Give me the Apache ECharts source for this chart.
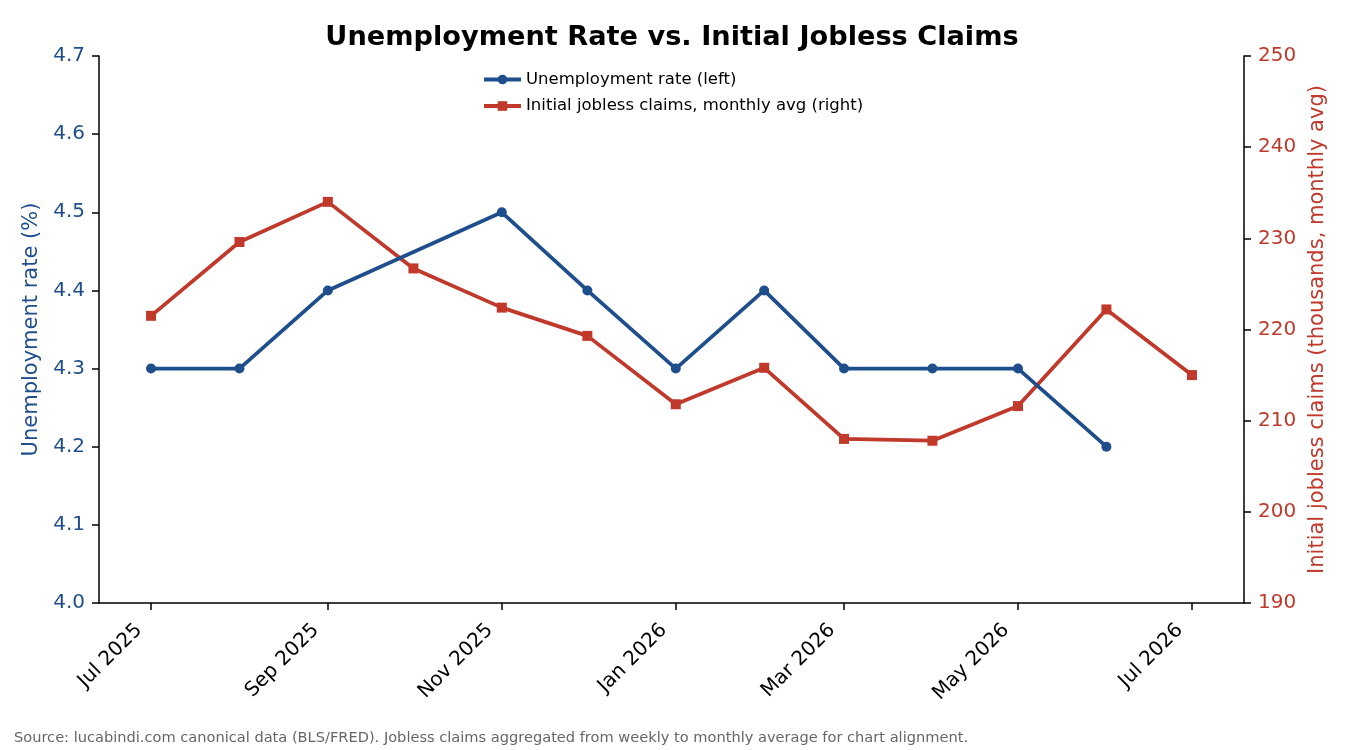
<!DOCTYPE html>
<html>
<head>
<meta charset="utf-8">
<script src="https://cdn.jsdelivr.net/npm/echarts@6/dist/echarts.min.js"></script>
<style>
  html, body { margin: 0; padding: 0; background: #fff; }
  #main { width: 1350px; height: 750px; }
</style>
</head>
<body>
<div id="main"></div>
<script>
// monthly observations (first of month)
const months = ['2025-07', '2025-08', '2025-09', '2025-10', '2025-11', '2025-12',
  '2026-01', '2026-02', '2026-03', '2026-04', '2026-05', '2026-06', '2026-07']
// unemployment rate, %; Oct 2025 has no release
const unemployment = [4.3, 4.3, 4.4, null, 4.5, 4.4, 4.3, 4.4, 4.3, 4.3, 4.3, 4.2, null]
// initial jobless claims, thousands, monthly avg
const claims = [221.5, 229.6, 234.0, 226.7, 222.4, 219.3, 211.8, 215.8, 208.0, 207.8, 211.6, 222.2, 215.0]
const tickMonths = ['2025-07', '2025-09', '2025-11', '2026-01', '2026-03', '2026-05', '2026-07']
const tickLabels = ['Jul 2025', 'Sep 2025', 'Nov 2025', 'Jan 2026', 'Mar 2026', 'May 2026', 'Jul 2026']

const BLUE = '#1f4e8c'
const RED = '#c0392b'
const FONT = 'DejaVu Sans'

// x is days since epoch, so the axis keeps real date spacing
const toDay = m => {
  const [y, mo] = m.split('-').map(Number)
  return Date.UTC(y, mo - 1, 1) / 86400000
}
const xs = months.map(toDay)
const ticks = tickMonths.map(toDay)
const span = xs[xs.length - 1] - xs[0]
const pad = span * 0.05

const chart = echarts.init(document.getElementById('main'))
chart.setOption({
  animation: false,
  textStyle: { fontFamily: FONT },
  title: {
    text: 'Unemployment Rate vs. Initial Jobless Claims',
    left: 667,
    textAlign: 'center',
    top: 19,
    textStyle: { fontFamily: FONT, fontSize: 27.2, fontWeight: 'bold', color: '#000' }
  },
  legend: {
    orient: 'vertical',
    left: 477,
    top: 66,
    itemWidth: 37,
    itemHeight: 12,
    itemGap: 9.5,
    lineStyle: { width: 4 },
    textStyle: { fontFamily: FONT, fontSize: 16.5, color: '#000' },
    data: ['Unemployment rate (left)', 'Initial jobless claims, monthly avg (right)']
  },
  grid: { left: 99, right: 106, top: 56, bottom: 147, containLabel: false },
  xAxis: {
    type: 'value',
    min: xs[0] - pad,
    max: xs[xs.length - 1] + pad,
    axisLine: { lineStyle: { color: '#000', width: 1.5 } },
    axisTick: { show: true, length: 7, lineStyle: { color: '#000', width: 1.5 }, customValues: ticks },
    splitLine: { show: false },
    axisLabel: {
      customValues: ticks,
      rotate: 45,
      margin: 12,
      padding: [0, 17, 0, 0],
      fontFamily: FONT,
      fontSize: 20,
      color: '#000',
      formatter: v => {
        const i = ticks.findIndex(t => Math.abs(t - v) < 0.5)
        return i >= 0 ? tickLabels[i] : ''
      }
    }
  },
  yAxis: [
    {
      type: 'value',
      min: 4.0,
      max: 4.7,
      interval: 0.1,
      name: 'Unemployment rate (%)',
      nameLocation: 'middle',
      nameRotate: 90,
      nameGap: 56,
      nameTextStyle: { fontFamily: FONT, fontSize: 21, color: BLUE },
      axisLine: { show: true, lineStyle: { color: '#000', width: 1.5 } },
      axisTick: { show: true, length: 7, lineStyle: { color: '#000', width: 1.5 } },
      splitLine: { show: false },
      axisLabel: {
        fontFamily: FONT, fontSize: 20, color: BLUE, margin: 14,
        formatter: v => v.toFixed(1)
      }
    },
    {
      type: 'value',
      min: 190,
      max: 250,
      interval: 10,
      position: 'right',
      name: 'Initial jobless claims (thousands, monthly avg)',
      nameLocation: 'middle',
      nameRotate: 90,
      nameGap: 62,
      nameTextStyle: { fontFamily: FONT, fontSize: 21, color: RED },
      axisLine: { show: true, lineStyle: { color: '#000', width: 1.5 } },
      axisTick: { show: true, length: 7, lineStyle: { color: '#000', width: 1.5 } },
      splitLine: { show: false },
      axisLabel: { fontFamily: FONT, fontSize: 20, color: RED, margin: 14 }
    }
  ],
  series: [
    {
      name: 'Unemployment rate (left)',
      type: 'line',
      yAxisIndex: 0,
      data: xs.map((x, i) => [x, unemployment[i]]),
      connectNulls: true,
      symbol: 'circle',
      symbolSize: 10,
      lineStyle: { color: BLUE, width: 3.75 },
      itemStyle: { color: BLUE },
      z: 3
    },
    {
      name: 'Initial jobless claims, monthly avg (right)',
      type: 'line',
      yAxisIndex: 1,
      data: xs.map((x, i) => [x, claims[i]]),
      symbol: 'rect',
      symbolSize: 10,
      lineStyle: { color: RED, width: 3.75 },
      itemStyle: { color: RED },
      z: 2
    }
  ],
  graphic: [{
    type: 'text',
    left: 14,
    top: 731,
    style: {
      text: 'Source: lucabindi.com canonical data (BLS/FRED). Jobless claims aggregated from weekly to monthly average for chart alignment.',
      fontFamily: FONT,
      fontSize: 14.6,
      fill: '#666'
    }
  }]
})

window.addEventListener('resize', () => chart && chart.resize())
</script>
</body>
</html>
